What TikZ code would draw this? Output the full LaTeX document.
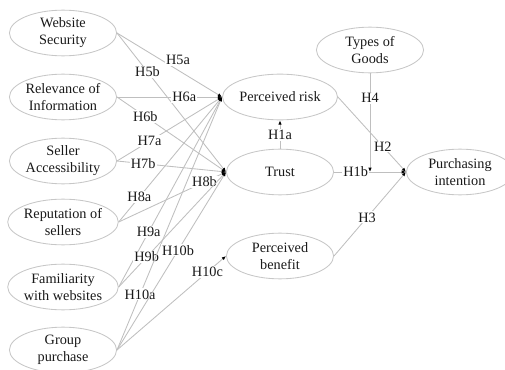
\documentclass[tikz,border=0pt]{standalone}
\usepackage{fontspec}
\setmainfont{Liberation Serif}
\usetikzlibrary{arrows.meta,shapes.geometric}
\tikzset{
  factor/.style={ellipse,draw=black!22,line width=0.6pt,minimum width=75pt,
    minimum height=32pt,inner sep=0pt,align=center,text=black!90},
  link/.style={draw=black!25,line width=0.6pt,
    -{Latex[length=3pt,width=2.4pt,black]}},
  hyp/.style={fill=white,inner sep=0.8pt,text=black!90}
}
\begin{document}
\begin{tikzpicture}[x=0.7pt,y=-0.7pt]
  \useasboundingbox (0,0) rectangle (505,370);
  % exogenous factors
  \node[factor] (web) at (63,33) {Website\\Security};
  \node[factor] (rel) at (63,97) {Relevance of\\Information};
  \node[factor] (acc) at (63,161) {Seller\\Accessibility};
  \node[factor] (rep) at (63,222) {Reputation of\\sellers};
  \node[factor] (fam) at (63,287) {Familiarity\\with websites};
  \node[factor] (grp) at (63,350) {Group\\purchase};
  % mediators and outcome
  \node[factor] (risk) at (280,97) {Perceived risk};
  \node[factor] (trust) at (280,172) {Trust};
  \node[factor] (benefit) at (280,256) {Perceived\\benefit};
  \node[factor] (goods) at (370,50) {Types of\\Goods};
  \node[factor] (intent) at (460,172) {Purchasing\\intention};

  \draw[link] (web.east) -- (risk.west);
  \node[hyp] (h5a) at (178,60) {H5a};
  \draw[link] (web.east) -- node[hyp,pos=0.28] (h5b) {H5b} (trust.west);
  \draw[link] (rel.east) -- node[hyp,pos=0.64] (h6a) {H6a} (risk.west);
  \draw[link] (rel.east) -- node[hyp,pos=0.26] (h6b) {H6b} (trust.west);
  \draw[link] (acc.east) -- node[hyp,pos=0.31] (h7a) {H7a} (risk.west);
  \draw[link] (acc.east) -- node[hyp,pos=0.24] (h7b) {H7b} (trust.west);
  \draw[link] (rep.east) -- node[hyp,pos=0.2] (h8a) {H8a} (risk.west);
  \draw[link] (rep.east) -- node[hyp,pos=0.8] (h8b) {H8b} (trust.west);
  \draw[link] (fam.east) -- node[hyp,pos=0.29] (h9a) {H9a} (risk.west);
  \draw[link] (fam.east) -- node[hyp,pos=0.26] (h9b) {H9b} (trust.west);
  \draw[link] (grp.east) -- node[hyp,pos=0.22] (h10a) {H10a} (risk.west);
  \draw[link] (grp.east) -- node[hyp,pos=0.56] (h10b) {H10b} (trust.west);
  \draw[link] (grp.east) -- node[hyp,pos=0.83] (h10c) {H10c} (benefit.west);

  \draw[link] (trust.north) -- node[hyp,pos=0.48] (h1a) {H1a} (risk.south);
  \draw[link] (trust.east) -- node[hyp,pos=0.3] (h1b) {H1b} (intent.west);
  \draw[link] (risk.east) -- node[hyp,pos=0.66] (h2) {H2} (intent.west);
  \draw[link] (benefit.east) -- node[hyp,pos=0.46] (h3) {H3} (intent.west);
  \draw[link] (goods.south) -- node[hyp,pos=0.25] (h4) {H4} (goods.south |- trust.east);
\end{tikzpicture}
\end{document}
